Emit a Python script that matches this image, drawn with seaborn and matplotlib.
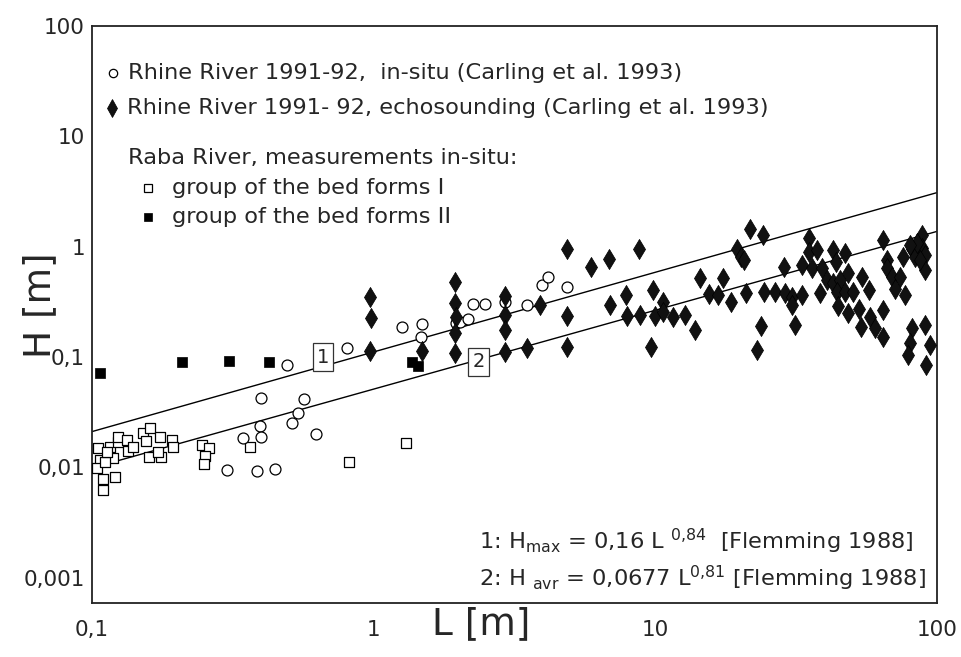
import matplotlib
matplotlib.use("Agg")
import matplotlib.pyplot as plt
from matplotlib.lines import Line2D
import seaborn as sns
import pandas as pd

# ---------------- data ----------------
# Rhine River 1991-92, in-situ (open circles)
insitu_L = [0.492, 0.804, 0.398, 0.565, 0.538, 0.513, 0.395, 0.398, 0.344, 0.624,
            0.301, 0.384, 0.446, 1.26, 1.48, 1.47, 1.96, 2.02, 2.16, 2.25, 2.48,
            2.92, 3.49, 3.94, 4.14, 4.85]
insitu_H = [0.0851, 0.121, 0.0428, 0.0417, 0.0309, 0.0251, 0.0239, 0.0187, 0.0184, 0.0201,
            0.00947, 0.00927, 0.00962, 0.186, 0.198, 0.151, 0.205, 0.209, 0.219, 0.300, 0.300,
            0.317, 0.296, 0.449, 0.527, 0.434]

# Rhine River 1991-92, echosounding (filled diamonds)
echo_L = [0.970, 0.977, 0.970, 1.48,
          1.94, 1.94, 1.96, 1.94, 1.94,
          2.92, 2.92, 2.92, 2.92,
          3.49, 3.89,
          4.85, 5.89, 6.84, 8.73,
          4.85, 4.85, 6.89, 7.83, 7.94, 8.81, 9.82, 9.96, 10.65, 10.65, 9.62,
          11.56, 12.71, 13.8, 14.4, 15.4, 16.7, 17.4, 18.5, 21.0, 21.7, 24.0,
          19.4, 20.1, 20.5, 23.6, 22.8, 24.3, 26.5, 28.8, 30.4, 30.4, 33.0,
          31.2, 28.6, 33.0, 35.1, 35.1, 37.3, 35.8, 38.8, 38.3, 42.5, 43.6,
          47.0, 40.5, 42.5, 45.1, 48.3, 43.9, 47.0, 50.3, 44.5, 48.3, 52.8,
          53.8, 57.2, 53.4, 57.7, 60.1, 64.3, 64.3, 64.3, 66.1, 66.1, 68.9,
          73.6, 70.8, 76.7, 75.3, 81.1, 83.2, 87.9, 87.9, 90.3, 90.3, 81.1,
          79.8, 78.8, 90.3, 94.2, 91.2, 84.5, 86.7, 79.8]
echo_H = [0.352, 0.224, 0.114, 0.114,
          0.481, 0.306, 0.232, 0.164, 0.109,
          0.357, 0.240, 0.176, 0.112,
          0.120, 0.296,
          0.945, 0.658, 0.767, 0.945,
          0.235, 0.122, 0.296, 0.364, 0.235, 0.240, 0.405, 0.235, 0.317, 0.257, 0.122,
          0.232, 0.240, 0.176, 0.516, 0.372, 0.364, 0.516, 0.317, 0.382, 1.44, 1.27,
          0.951, 0.810, 0.756, 0.191, 0.116, 0.390, 0.390, 0.378, 0.352, 0.296, 0.364,
          0.195, 0.658, 0.681, 1.19, 0.899, 0.932, 0.636, 0.636, 0.378, 0.932, 0.730,
          0.880, 0.498, 0.465, 0.498, 0.573, 0.390, 0.390, 0.390, 0.290, 0.252, 0.270,
          0.533, 0.405, 0.188, 0.232, 0.182, 0.267, 0.153, 1.16, 0.756, 0.636, 0.533,
          0.533, 0.411, 0.364, 0.810, 0.945, 0.810, 1.27, 0.965, 0.839, 0.614, 0.182,
          0.133, 0.104, 0.195, 0.128, 0.0847, 1.07, 0.756, 1.03]

# Raba River, group of the bed forms I (open squares)
raba1_L = [0.105, 0.107, 0.104, 0.109, 0.109, 0.121, 0.119, 0.116, 0.124, 0.124,
           0.133, 0.134, 0.152, 0.161, 0.156, 0.174, 0.192, 0.194, 0.159, 0.176,
           0.171, 0.246, 0.260, 0.252, 0.250, 0.364, 0.817, 1.30, 0.111, 0.113, 0.140]
raba1_H = [0.0150, 0.0117, 0.00988, 0.00785, 0.00624, 0.00818, 0.0122, 0.0153, 0.0170, 0.0188,
           0.0177, 0.0141, 0.0205, 0.0228, 0.0173, 0.0188, 0.0177, 0.0153, 0.0124, 0.0124,
           0.0138, 0.0160, 0.0150, 0.0127, 0.0107, 0.0153, 0.0111, 0.0165, 0.0113, 0.0138, 0.0154]

# Raba River, group of the bed forms II (filled squares)
raba2_L = [0.107, 0.208, 0.306, 0.425, 1.362, 1.435]
raba2_H = [0.0721, 0.0895, 0.0920, 0.0901, 0.0906, 0.0829]

# Flemming (1988) lines, end values as drawn
line_L = [0.1, 100]
line1_H = [0.0211, 3.10]
line2_H = [0.00988, 1.38]
label1_pos = (0.66, 0.100)
label2_pos = (2.36, 0.0906)

x_ticks = [0.1, 1, 10, 100]
x_ticklabels = ["0,1", "1", "10", "100"]
y_ticks = [0.001, 0.01, 0.1, 1, 10, 100]
y_ticklabels = ["0,001", "0,01", "0,1", "1", "10", "100"]

legend_texts = ["Rhine River 1991-92,  in-situ (Carling et al. 1993)",
                "Rhine River 1991- 92, echosounding (Carling et al. 1993)",
                "Raba River, measurements in-situ:",
                "group of the bed forms I",
                "group of the bed forms II"]

# ---------------- plot ----------------
sns.set_theme(style="white")
plt.rcParams["font.family"] = ["DejaVu Sans"]
TXT = "#262626"
FS = 16.2

fig = plt.figure(figsize=(9.62, 6.57), dpi=100)
ax = fig.add_axes([92/962, 1-603/657, (937.5-92)/962, (603-26)/657])
ax.set_xscale("log")
ax.set_yscale("log")

df_in = pd.DataFrame({"L": insitu_L, "H": insitu_H})
df_echo = pd.DataFrame({"L": echo_L, "H": echo_H})
df_r1 = pd.DataFrame({"L": raba1_L, "H": raba1_H})
df_r2 = pd.DataFrame({"L": raba2_L, "H": raba2_H})

sns.lineplot(x=line_L, y=line1_H, ax=ax, color="black", lw=1.0, zorder=2)
sns.lineplot(x=line_L, y=line2_H, ax=ax, color="black", lw=1.0, zorder=2)

sns.scatterplot(data=df_r1, x="L", y="H", ax=ax, marker="s", s=58,
                color="white", edgecolor="black", linewidth=0.9, zorder=3)
sns.scatterplot(data=df_r2, x="L", y="H", ax=ax, marker="s", s=48,
                color="black", edgecolor="black", linewidth=0.5, zorder=3)
sns.scatterplot(data=df_in, x="L", y="H", ax=ax, marker="o", s=62,
                color="white", edgecolor="black", linewidth=0.9, zorder=4)
sns.scatterplot(data=df_echo, x="L", y="H", ax=ax, marker="d", s=105,
                color="#111111", edgecolor="black", linewidth=0.5, zorder=5)

for lab, (lx, ly) in zip(["1", "2"], [label1_pos, label2_pos]):
    ax.text(lx, ly, lab, ha="center", va="center", fontsize=14, color=TXT, zorder=6,
            bbox=dict(boxstyle="square,pad=0.22", fc="white", ec="#333333", lw=0.9))

ax.set_xlim(0.1, 100)
ax.set_ylim(5.9e-4, 100)
ax.minorticks_off()
ax.set_xticks(x_ticks)
ax.set_xticklabels(x_ticklabels)
ax.set_yticks(y_ticks)
ax.set_yticklabels(y_ticklabels)
ax.tick_params(axis="both", length=0, labelsize=15.5, colors=TXT)
ax.tick_params(axis="x", pad=12)
ax.tick_params(axis="y", pad=5)
for sp in ax.spines.values():
    sp.set_visible(True)
    sp.set_color("#222222")
    sp.set_linewidth(1.3)

ax.set_xlabel("L [m]", fontsize=27, color=TXT)
ax.set_ylabel("H [m]", fontsize=27, color=TXT)
ax.xaxis.set_label_coords(0.46, -0.005)
ax.yaxis.set_label_coords(-0.040, 0.516)

# legend drawn as text block inside the axes
tr = ax.transAxes
ax.add_line(Line2D([0.0248], [0.9185], transform=tr, marker="o", ms=6, mfc="white",
                   mec="black", mew=0.9, ls="none"))
ax.add_line(Line2D([0.0237], [0.858], transform=tr, marker="d", ms=9, mfc="#111111",
                   mec="black", mew=0.5, ls="none"))
ax.add_line(Line2D([0.0662], [0.719], transform=tr, marker="s", ms=6, mfc="white",
                   mec="black", mew=0.9, ls="none"))
ax.add_line(Line2D([0.0662], [0.669], transform=tr, marker="s", ms=6, mfc="black",
                   mec="black", mew=0.5, ls="none"))
leg_pos = [(0.0426, 0.9185), (0.0414, 0.858), (0.0426, 0.771), (0.0946, 0.719), (0.0946, 0.669)]
for t, (tx, ty) in zip(legend_texts, leg_pos):
    ax.text(tx, ty, t, transform=tr, ha="left", va="center", fontsize=FS, color=TXT)

ax.text(0.458, 0.1075, r"1: H$_{\mathregular{max}}$ = 0,16 L $^{\mathregular{0{,}84}}$  [Flemming 1988]",
        transform=tr, ha="left", va="center", fontsize=FS, color=TXT)
ax.text(0.458, 0.0433, r"2: H $_{\mathregular{avr}}$ = 0,0677 L$^{\mathregular{0{,}81}}$ [Flemming 1988]",
        transform=tr, ha="left", va="center", fontsize=FS, color=TXT)

fig.savefig("out.png", dpi=100, facecolor="white")
